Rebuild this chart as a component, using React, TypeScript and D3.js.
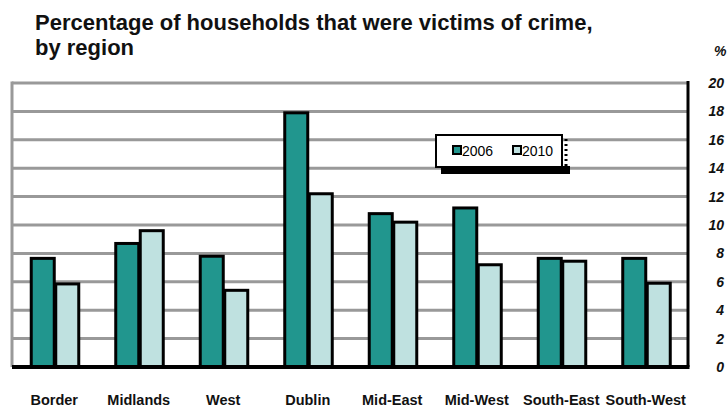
import React from "react";
import * as d3 from "d3";

const regions = ["Border", "Midlands", "West", "Dublin", "Mid-East", "Mid-West", "South-East", "South-West"];
const years = ["2006", "2010"];
const values2006 = [7.65, 8.7, 7.8, 17.9, 10.8, 11.2, 7.65, 7.65];
const values2010 = [5.85, 9.6, 5.4, 12.2, 10.2, 7.2, 7.45, 5.9];
const yTicks = [0, 2, 4, 6, 8, 10, 12, 14, 16, 18, 20];

const colors = ["#21968e", "#bfe1e0"];

const width = 728;
const height = 408;
const left = 12;
const right = 688;
const top = 83;
const bottom = 367;

const App = () => {
    const x = d3.scaleBand().domain(regions).range([left, right]).paddingInner(0.42).paddingOuter(0.21);
    const x1 = d3.scaleBand().domain(years).range([0, x.bandwidth()]);
    const y = d3.scaleLinear().domain([0, 20]).range([bottom, top]);

    const series = [values2006, values2010];

    return (
        <svg width={width} height={height} style={{ position: "absolute", left: 0, top: 0 }} fontFamily="Liberation Sans, Arial, sans-serif">
            <rect width={width} height={height} fill="white" />
            <text x={35} y={30} fontSize={22} fontWeight="bold" fill="#111">
                Percentage of households that were victims of crime,
            </text>
            <text x={35} y={55} fontSize={22} fontWeight="bold" fill="#111">
                by region
            </text>
            <text x={714} y={56} fontSize={14} fontWeight="bold" fontStyle="italic" fill="#111">%</text>

            {/* gridlines */}
            {yTicks.filter(t => t > 0).map(t => (
                <line key={'g' + t} x1={left} x2={right} y1={y(t)} y2={y(t)} stroke="#999" strokeWidth={3} />
            ))}
            <line x1={left} x2={left} y1={top - 1.5} y2={bottom} stroke="#999" strokeWidth={3} />

            {/* legend */}
            <g transform="translate(436,135)">
                <rect x={5} y={31} width={129} height={8} fill="#000" />
                <line x1={130} x2={130} y1={4} y2={32} stroke="#000" strokeWidth={3} strokeDasharray="2,3" />
                <rect x={0} y={0} width={126} height={32} fill="#fff" stroke="#000" strokeWidth={2} />
                {years.map((yr, j) => (
                    <g key={yr} transform={`translate(${17 + j * 60},11)`}>
                        <rect width={8} height={8} fill={colors[j]} stroke="#000" strokeWidth={2} />
                        <text x={9} y={9.5} fontSize={14} fill="#000">{yr}</text>
                    </g>
                ))}
            </g>

            {/* bars */}
            {regions.map((r, i) => (
                <g key={r} transform={`translate(${x(r)},0)`}>
                    {series.map((s, j) => (
                        <rect
                            key={r + j}
                            x={(x1(years[j]) as number) + 1.5}
                            y={y(s[i])}
                            width={x1.bandwidth() - 1.5}
                            height={bottom - y(s[i])}
                            fill={colors[j]}
                            stroke="#000"
                            strokeWidth={3}
                        />
                    ))}
                </g>
            ))}

            {/* axes */}
            <line x1={left} x2={right + 1.5} y1={bottom} y2={bottom} stroke="#000" strokeWidth={4} />
            <line x1={right} x2={right} y1={top - 2} y2={bottom} stroke="#000" strokeWidth={3} />

            {yTicks.map(t => (
                <text key={'t' + t} x={724} y={y(t) + 5} textAnchor="end" fontSize={14} fontWeight="bold" fontStyle="italic" fill="#111">
                    {t}
                </text>
            ))}

            {regions.map(r => (
                <text key={'l' + r} x={(x(r) as number) + x.bandwidth() / 2} y={405} textAnchor="middle" fontSize={14.5} fontWeight="bold" fill="#111">
                    {r}
                </text>
            ))}
        </svg>
    );
};

export default App;
